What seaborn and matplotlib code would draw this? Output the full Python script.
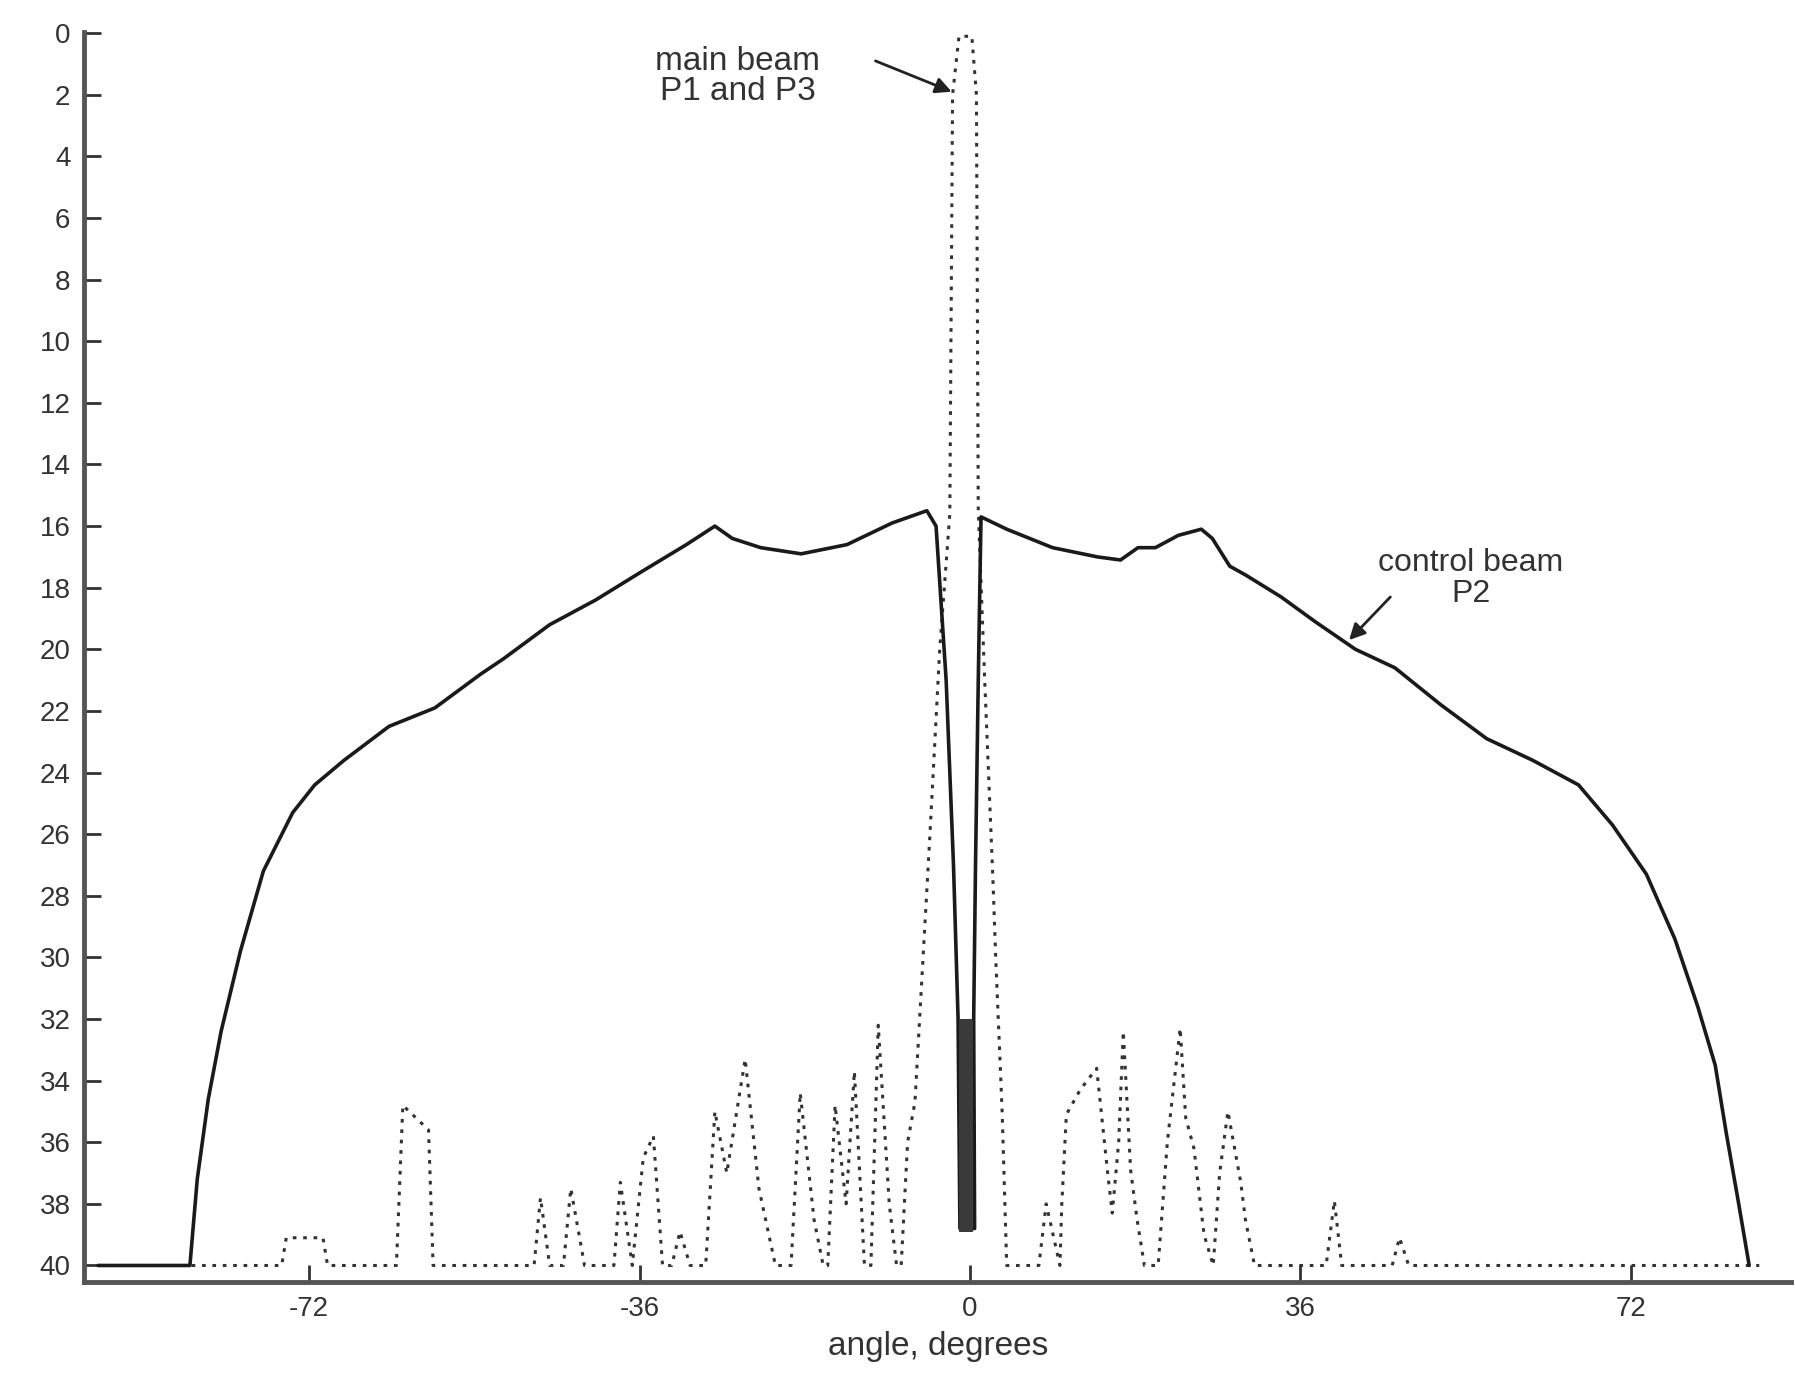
import numpy as np
import pandas as pd
import matplotlib
matplotlib.use("Agg")
import matplotlib.pyplot as plt
import seaborn as sns

# control beam P2 (solid curve), angle in degrees, level in dB below peak
control_angle = [-95, -85, -84.2, -83, -81.6, -79.5, -77, -73.8, -71.4, -68.2, -63.3, -58.3,
                 -53.3, -50.8, -45.8, -40.8, -35.9, -30.9, -27.8, -25.9, -22.8, -18.4, -13.4,
                 -8.5, -4.7, -3.7, -2.6, -1.8, -1.3, -1.1,
                 0.5, 0.4, 0.6, 0.9, 1.2, 4.0, 9.0, 13.9, 16.4, 18.3, 20.2, 22.7, 25.2, 26.4,
                 28.3, 30.1, 33.9, 37.6, 42.0, 46.3, 51.3, 56.3, 61.3, 66.3, 70.0, 73.7, 76.8,
                 79.3, 81.2, 82.4, 83.7, 84.9]
control_db = [40, 40, 37.2, 34.6, 32.4, 29.8, 27.2, 25.3, 24.4, 23.6, 22.5, 21.9,
              20.8, 20.3, 19.2, 18.4, 17.5, 16.6, 16.0, 16.4, 16.7, 16.9, 16.6,
              15.9, 15.5, 16.0, 21.0, 27.0, 32.0, 38.8,
              38.8, 32.0, 27.0, 21.0, 15.7, 16.1, 16.7, 17.0, 17.1, 16.7, 16.7, 16.3, 16.1, 16.4,
              17.3, 17.6, 18.3, 19.1, 20.0, 20.6, 21.8, 22.9, 23.6, 24.4, 25.7, 27.3, 29.4,
              31.6, 33.5, 35.7, 37.9, 40]

# dark core where both control-beam branches merge near boresight
core_angle = [-0.4, -0.4]
core_db = [32.0, 38.9]

# main beam P1 and P3 (dotted curve)
main_angle = [-95, -75, -74.5, -70.5, -70, -62.5, -61.8, -59, -58.5, -47.5, -46.8, -45.8,
              -44.3, -43.5, -42, -38.8, -38.1, -36.8, -35.6, -34.5, -33.5, -32.5, -31.6,
              -30.5, -28.8, -27.8, -26.5, -24.5, -23, -21.2, -19.5, -18.5, -17, -16, -15.5,
              -14.7, -13.5, -12.6, -11.5, -10.8, -10.0, -8.8, -8, -7.5, -6.8, -6.0, -4.4,
              -3.3, -2.2, -1.9, -1.2, 0.2, 0.7, 0.9, 1.6, 2.5, 2.8, 3.5, 4.0, 7.5,
              8.3, 9.8, 10.0, 10.5, 12, 13.8, 15, 15.5, 16.2, 16.7, 17.5, 18.2, 19, 20.5,
              21.5, 22.9, 23.5, 24.4, 25.5, 26.5, 27.2, 28.1, 29.5, 30, 31, 35.3, 38.8,
              39.7, 40.5, 46, 46.8, 47.8, 86]
main_db = [40, 40, 39.1, 39.1, 40, 40, 34.8, 35.6, 40, 40, 37.8, 40,
           40, 37.5, 40, 40, 37.3, 40, 36.5, 35.8, 40, 40, 38.9,
           40, 40, 35.0, 37.0, 33.3, 37.5, 40, 40, 34.4, 38.5, 40, 40,
           34.8, 38.0, 33.7, 40, 40, 32.2, 38.0, 40, 40, 36.0, 34.7, 26.2,
           20.0, 15.6, 2.0, 0.1, 0.1, 2.0, 15.5, 21.0, 27.5, 30.0, 35.0, 40, 40,
           38.0, 40, 38.0, 35.1, 34.3, 33.6, 37.0, 38.3, 36.0, 32.4, 36.9, 38.5, 40, 40,
           36.0, 32.3, 35.2, 36.2, 39.0, 40, 37.0, 35.0, 37.3, 38.5, 40, 40, 40,
           37.9, 40, 40, 39.1, 40, 40]

x_ticks = [-72, -36, 0, 36, 72]
y_ticks = list(range(0, 41, 2))

control = pd.DataFrame({"angle": control_angle, "db": control_db})
core = pd.DataFrame({"angle": core_angle, "db": core_db})
main = pd.DataFrame({"angle": main_angle, "db": main_db})

sns.set_style("ticks")
plt.rcParams["font.family"] = ["Liberation Sans", "DejaVu Sans"]

fig = plt.figure(figsize=(17.95, 13.76), dpi=100)
ax = fig.add_axes([0.047, 0.068, 0.951, 0.909])

sns.lineplot(data=main, x="angle", y="db", sort=False, estimator=None, ax=ax,
             color="#333333", linewidth=2.2, linestyle=(0, (1.2, 2.2)))
sns.lineplot(data=control, x="angle", y="db", sort=False, estimator=None, ax=ax,
             color="#1a1a1a", linewidth=2.6)
sns.lineplot(data=core, x="angle", y="db", sort=False, estimator=None, ax=ax,
             color="#3a3a3a", linewidth=10, solid_capstyle="butt")

ax.set_xlim(-96.5, 89.5)
ax.set_ylim(40.55, -0.05)
ax.set_xticks(x_ticks)
ax.set_xticklabels([str(t) for t in x_ticks])
ax.set_yticks(y_ticks)
ax.set_xlabel("angle, degrees", fontsize=24, color="#333333", labelpad=6)
ax.set_ylabel("")
ax.tick_params(direction="in", length=12, width=2, colors="#333333",
               labelsize=20, pad=10)

sns.despine(ax=ax)
for side in ["left", "bottom"]:
    ax.spines[side].set_linewidth(3.5)
    ax.spines[side].set_color("#555555")

ax.text(-25.3, 1.4, "main beam\nP1 and P3", ha="center", va="center",
        fontsize=24, color="#333333", linespacing=0.95)
ax.annotate("", xy=(-2.0, 1.9), xytext=(-10.3, 0.9),
            arrowprops=dict(arrowstyle="-|>", color="#222222", lw=2,
                            mutation_scale=24, shrinkA=0, shrinkB=0))
ax.text(54.6, 17.7, "control beam\nP2", ha="center", va="center",
        fontsize=23, color="#333333", linespacing=1.05)
ax.annotate("", xy=(41.3, 19.7), xytext=(45.8, 18.3),
            arrowprops=dict(arrowstyle="-|>", color="#222222", lw=2,
                            mutation_scale=24, shrinkA=0, shrinkB=0))

fig.savefig("out.png", dpi=100)
